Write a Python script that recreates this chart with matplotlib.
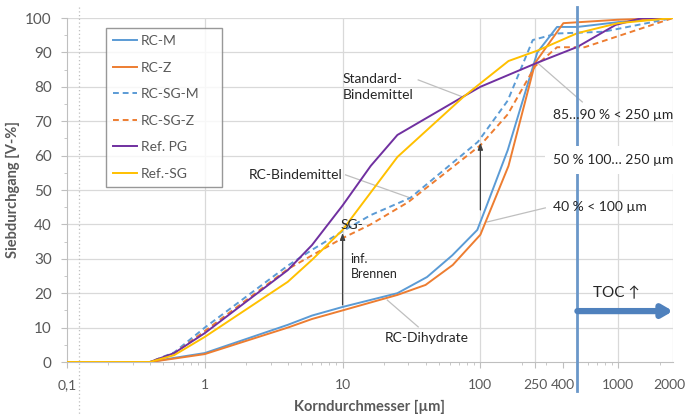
import numpy as np
import matplotlib
matplotlib.use("Agg")
import matplotlib.pyplot as plt
from matplotlib.ticker import LogLocator, NullFormatter, MultipleLocator

plt.rcParams['font.family'] = ['Lato', 'DejaVu Sans']

# sieve curves (x in um, y in V-%)
rc_m_x = [0.1, 0.4, 0.6, 1, 4, 6, 10, 25, 41, 62.5, 95, 110, 158, 259, 360, 506, 1000, 2500]
rc_m_y = [0, 0, 1.2, 2.6, 10.8, 13.5, 16, 20, 24.7, 31, 38.4, 45, 61.6, 90, 97.4, 97.4, 98.8, 100]

rc_z_x = [0.1, 0.4, 0.6, 1, 4, 6, 10, 25, 40, 63, 100, 160, 250, 400, 1000, 2500]
rc_z_y = [0, 0, 1, 2.3, 10, 12.5, 15, 19.5, 22.4, 28.2, 37, 57, 87, 98.5, 99.5, 100]

rc_sg_m_x = [0.1, 0.4, 0.6, 1, 4, 6, 10, 16, 31, 96, 158, 240, 360, 780, 2500]
rc_sg_m_y = [0, 0, 2.8, 10, 28, 32.6, 38, 42.7, 47.7, 64, 76, 93.6, 95.5, 96, 100]

rc_sg_z_x = [0.1, 0.4, 0.6, 1, 4, 6, 10, 16, 30, 100, 158, 250, 360, 570, 2500]
rc_sg_z_y = [0, 0, 2.5, 9, 27, 31, 36, 40, 46.5, 63, 72, 86, 91.5, 91.5, 100]

ref_pg_x = [0.1, 0.4, 0.6, 1, 4, 6, 10, 16, 25, 74, 100, 259, 506, 960, 1500, 2500]
ref_pg_y = [0, 0, 2.6, 8.4, 26.7, 34, 45.5, 57, 66, 77, 80, 87, 91.6, 98, 100, 100]

ref_sg_x = [0.1, 0.4, 0.6, 1, 4, 6, 10, 25, 75, 100, 160, 259, 506, 1000, 2500]
ref_sg_y = [0, 0, 2, 7.3, 23.3, 29.7, 38.4, 59.6, 77, 81, 87.5, 90.5, 95.6, 98.5, 100]

tick_pos = [0.1, 1, 10, 100, 250, 400, 1000]
tick_lab = ['0,1', '1', '10', '100', '250', '400', '1000']
vgrid = [1, 10, 100, 250, 1000, 2500]
toc_x = 506

BLUE = '#5B9BD5'
ORANGE = '#ED7D31'
PURPLE = '#7030A0'
YELLOW = '#FFC000'
GRAY = '#595959'
GRID = '#D9D9D9'

fig = plt.figure(figsize=(6.85, 4.16), dpi=100)
ax = fig.add_axes([67/685, 1-362/416, 606/685, 344/416])
ax.set_xscale('log')
ax.set_xlim(0.1, 2500)
ax.set_ylim(0, 100)

# grid
for g in range(10, 101, 10):
    ax.axhline(g, color=GRID, lw=0.9, zorder=0)
for g in vgrid:
    ax.axvline(g, color=GRID, lw=0.9, zorder=0)

lw = 1.4
ax.plot(rc_m_x, rc_m_y, color=BLUE, lw=lw, label='RC-M', zorder=3)
ax.plot(rc_z_x, rc_z_y, color=ORANGE, lw=lw, label='RC-Z', zorder=3)
ax.plot(rc_sg_m_x, rc_sg_m_y, color=BLUE, lw=lw, ls=(0, (3, 2)), label='RC-SG-M', zorder=3)
ax.plot(rc_sg_z_x, rc_sg_z_y, color=ORANGE, lw=lw, ls=(0, (3, 2)), label='RC-SG-Z', zorder=3)
ax.plot(ref_pg_x, ref_pg_y, color=PURPLE, lw=lw, label='Ref. PG', zorder=3)
ax.plot(ref_sg_x, ref_sg_y, color=YELLOW, lw=lw, label='Ref.-SG', zorder=3)

# axes styling
for s in ['top', 'right']:
    ax.spines[s].set_visible(False)
for s in ['left', 'bottom']:
    ax.spines[s].set_color('#BFBFBF')
ax.set_xticks(tick_pos)
ax.set_xticklabels(tick_lab)
ax.xaxis.set_minor_locator(LogLocator(base=10, subs=np.arange(2, 10)))
ax.xaxis.set_minor_formatter(NullFormatter())
ax.yaxis.set_major_locator(MultipleLocator(10))
ax.yaxis.set_minor_locator(MultipleLocator(5))
ax.tick_params(which='both', colors='#BFBFBF', labelcolor=GRAY)
ax.tick_params(axis='y', labelsize=11, pad=7)
ax.tick_params(axis='x', labelsize=10, pad=8)
ax.tick_params(which='major', length=4)
ax.tick_params(which='minor', length=2.5)
# last label sits at the right end, a bit higher
ax.text(1.02, -0.05, '2000', transform=ax.transAxes, fontsize=10, color=GRAY,
        ha='right', va='top')

ax.set_xlabel('Korndurchmesser [µm]', fontsize=10.5, fontweight='bold', color=GRAY)
ax.set_ylabel('Siebdurchgang [V-%]', fontsize=10.5, fontweight='bold', color=GRAY)
ax.xaxis.set_label_coords(0.5, -0.11)
ax.yaxis.set_label_coords(-0.078, 0.5)

leg = ax.legend(loc='upper left', bbox_to_anchor=(0.0644, 0.471, 0.1914, 0.5),
                mode='expand', fontsize=10, frameon=True, fancybox=False,
                borderpad=0.5, handlelength=1.7, handletextpad=0.3,
                labelspacing=1.05, borderaxespad=0)
leg.get_frame().set_edgecolor('#7F7F7F')
leg.get_frame().set_linewidth(1.0)
for t in leg.get_texts():
    t.set_color(GRAY)

# vertical TOC limit and helper line on the left
ax.axvline(toc_x, ymin=-0.084, ymax=1.032, color='#6A97C9', lw=2, clip_on=False, zorder=4)
ax.axvline(0.122, ymin=-0.16, ymax=1.032, color='#BFBFBF', lw=0.9, ls=(0, (1, 2)), clip_on=False, zorder=1)

ax.annotate('', xy=(2500, 14.8), xytext=(toc_x, 14.8),
            arrowprops=dict(arrowstyle='-|>,head_length=0.6,head_width=0.35', color='#4F81BD', lw=4.5,
                            shrinkA=0, shrinkB=0), zorder=5, annotation_clip=False)
ax.text(661, 20, 'TOC ↑', fontsize=11, color='#262626', va='center', ha='left', zorder=6)

TXT = '#262626'
LEAD = '#BFBFBF'
fs = 10
ax.text(10, 80, 'Standard-\nBindemittel', fontsize=fs, color=TXT, va='center', ha='left', linespacing=1.45, zorder=6)
ax.plot([35.4, 75], [82, 77], color=LEAD, lw=0.9, zorder=2)
ax.text(10, 54.4, 'RC-Bindemittel', fontsize=fs, color=TXT, va='center', ha='right', zorder=6)
ax.plot([10.5, 31], [54.4, 47.7], color=LEAD, lw=0.9, zorder=2)
ax.text(9.6, 39.8, 'SG-', fontsize=fs, color=TXT, va='center', ha='left', zorder=6)
ax.annotate('', xy=(10, 37.5), xytext=(10, 16.6),
            arrowprops=dict(arrowstyle='-|>,head_length=0.4,head_width=0.15', color='#404040', lw=0.9,
                            shrinkA=0, shrinkB=0), zorder=6)
ax.text(11.4, 27.8, 'inf.\nBrennen', fontsize=9, color=TXT, va='center', ha='left', linespacing=1.25, zorder=6)
ax.annotate('', xy=(100, 63.7), xytext=(100, 44.2),
            arrowprops=dict(arrowstyle='-|>,head_length=0.4,head_width=0.15', color='#404040', lw=0.9,
                            shrinkA=0, shrinkB=0), zorder=6)
ax.text(20.4, 7.0, 'RC-Dihydrate', fontsize=fs, color=TXT, va='center', ha='left', zorder=6)
ax.plot([21.1, 35.4], [18, 10.2], color=LEAD, lw=0.9, zorder=2)
ax.text(338, 45, '40 % < 100 µm', fontsize=fs, color=TXT, va='center', ha='left', zorder=6)
ax.plot([112, 296], [40.7, 44.8], color=LEAD, lw=0.9, zorder=2)
ax.text(338, 58.7, '50 % 100… 250 µm', fontsize=fs, color=TXT, va='center', ha='left', zorder=6,
        bbox=dict(facecolor='white', edgecolor='none', pad=6))
ax.text(335, 71.8, '85…90 % < 250 µm', fontsize=fs, color=TXT, va='center', ha='left', zorder=6)
ax.plot([259, 549], [87, 75.6], color=LEAD, lw=0.9, zorder=2)

fig.savefig('out.png', dpi=100)
